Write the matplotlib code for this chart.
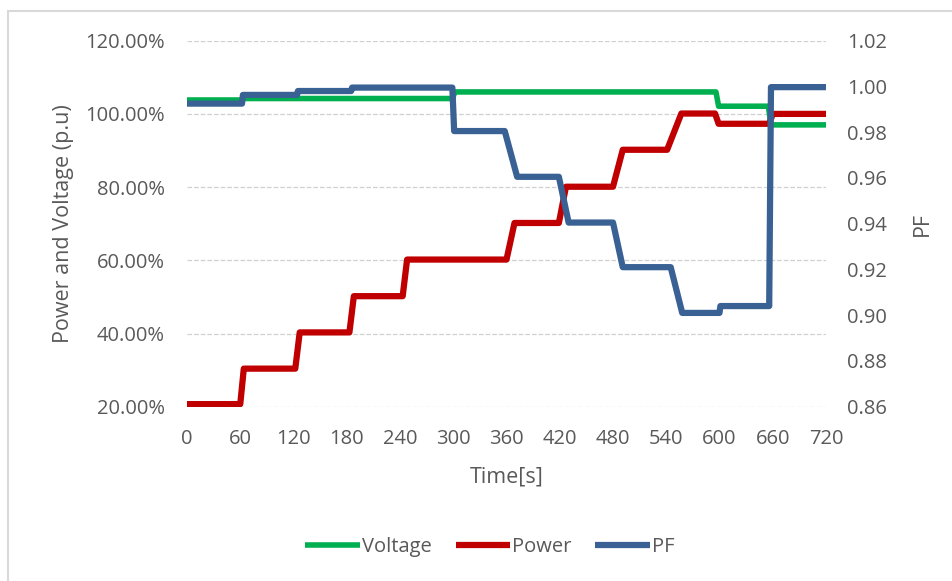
import numpy as np
import matplotlib
matplotlib.use('Agg')
import matplotlib.pyplot as plt
from matplotlib.patches import Rectangle
from matplotlib.ticker import FuncFormatter

# data (time in s, power/voltage in %, PF)
t_volt = [0, 62, 64, 299, 302, 596, 599, 655, 658, 720]
volt = [103.8, 103.8, 104.2, 104.2, 106.0, 106.0, 102.1, 102.1, 97.0, 97.0]

t_pow = [0, 60, 64, 122, 127, 183, 188, 243, 248, 360, 369, 419, 427,
         480, 491, 541, 557, 595, 599, 656, 660, 720]
power = [20.7, 20.7, 30.4, 30.4, 40.3, 40.3, 50.2, 50.2, 60.2, 60.2, 70.2, 70.2, 80.1,
         80.1, 90.2, 90.2, 100.1, 100.1, 97.3, 97.3, 100.0, 100.0]

t_pf = [0, 62, 63, 124, 125, 185, 186, 299, 301, 358, 372, 419, 430,
        480, 491, 545, 558, 600, 601, 656, 658, 720]
pf = [0.9925, 0.9925, 0.9963, 0.9963, 0.998, 0.998, 0.9995, 0.9995, 0.9805, 0.9805, 0.9605, 0.9605, 0.9405,
      0.9405, 0.9210, 0.9210, 0.9010, 0.9010, 0.904, 0.904, 0.9997, 0.9997]

xticks = np.arange(0, 721, 60)

txt = '#595959'
plt.rcParams['font.family'] = ['Open Sans', 'DejaVu Sans']

fig = plt.figure(figsize=(9.53, 5.81), dpi=100)
ax1 = fig.add_axes([187/953, 1-406.7/581, (826-187)/953, (406.7-40.7)/581])
ax2 = ax1.twinx()

# outer chart border
fig.patches.append(Rectangle((8/953, -0.05), 1.1, 1.05-11/581, transform=fig.transFigure,
                             fill=False, edgecolor='#d9d9d9', linewidth=1.5))

l1, = ax1.plot(t_volt, volt, color='#00B050', linewidth=4, label='Voltage', solid_capstyle='butt')
l2, = ax1.plot(t_pow, power, color='#C00000', linewidth=4.5, label='Power', solid_capstyle='butt')
l3, = ax2.plot(t_pf, pf, color='#3A6194', linewidth=4.5, label='PF', solid_capstyle='butt')

ax1.set_xlim(0, 720)
ax1.set_ylim(20, 120)
ax2.set_ylim(0.86, 1.02)
ax1.set_xticks(xticks)
ax1.set_yticks(np.arange(20, 121, 20))
ax2.set_yticks(np.arange(0.86, 1.021, 0.02))
ax1.yaxis.set_major_formatter(FuncFormatter(lambda v, p: '%.2f%%' % v))
ax2.yaxis.set_major_formatter(FuncFormatter(lambda v, p: '%.2f' % v))

ax1.grid(which='major', axis='y', color='#d0d0d0', linestyle='--', linewidth=0.9)
ax1.set_axisbelow(True)
for ax in (ax1, ax2):
    for s in ax.spines.values():
        s.set_visible(False)
    ax.tick_params(length=0, labelsize=14.5, colors=txt)
ax1.tick_params(axis='x', pad=16)
ax1.tick_params(axis='y', pad=16)
ax2.tick_params(axis='y', pad=15)

ax1.set_xlabel('Time[s]', color=txt, fontsize=15.5, labelpad=13)
ax1.set_ylabel('Power and Voltage (p.u)', color=txt, fontsize=15.5, labelpad=8)
ax2.set_ylabel('PF', color=txt, fontsize=15.5, labelpad=18, rotation=90)

leg = fig.legend(handles=[l1, l2, l3], loc='center', bbox_to_anchor=(0.514, 0.058), ncol=3,
                 frameon=False, fontsize=14.5, handlelength=2.7, handletextpad=0.1, columnspacing=1.2)
for t in leg.get_texts():
    t.set_color(txt)

plt.savefig('out.png', dpi=100)
